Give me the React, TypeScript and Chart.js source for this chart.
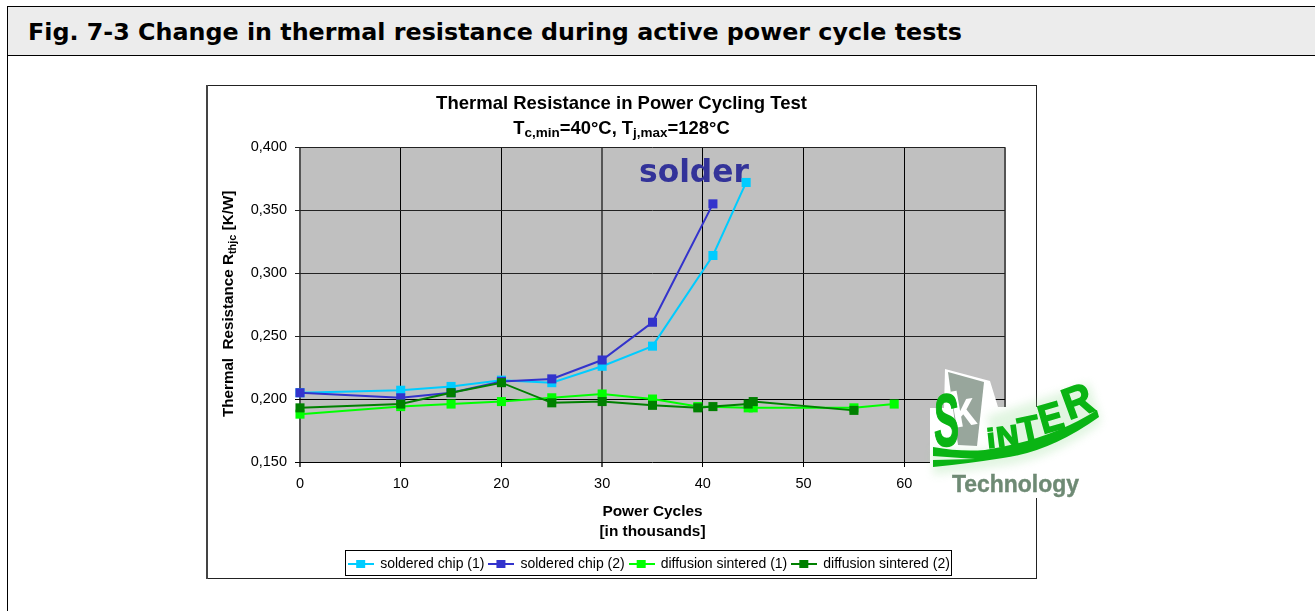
import React, { useEffect, useRef } from "react";
import { Chart, registerables } from "chart.js";

Chart.register(...registerables);

const HEADER = "Fig. 7-3 Change in thermal resistance during active power cycle tests";
const TITLE = "Thermal Resistance in Power Cycling Test";
const X_TITLE = ["Power Cycles", "[in thousands]"];

const solderedAX = [0, 10, 15, 20, 25, 30, 35, 41, 44.3];
const solderedAY = [0.205, 0.207, 0.21, 0.215, 0.213, 0.226, 0.242, 0.314, 0.372];
const solderedBX = [0, 10, 15, 20, 25, 30, 35, 41];
const solderedBY = [0.205, 0.201, 0.205, 0.214, 0.216, 0.231, 0.261, 0.355];
const sinteredAX = [0, 10, 15, 20, 25, 30, 35, 39.5, 44.5, 45, 55, 59];
const sinteredAY = [0.188, 0.194, 0.196, 0.198, 0.201, 0.204, 0.2, 0.194, 0.193, 0.193, 0.193, 0.196];
const sinteredBX = [0, 10, 15, 20, 25, 30, 35, 39.5, 41, 44.5, 45, 55];
const sinteredBY = [0.193, 0.196, 0.205, 0.213, 0.197, 0.198, 0.195, 0.193, 0.194, 0.196, 0.198, 0.191];

const SERIES_NAMES = ["soldered chip (1)", "soldered chip (2)", "diffusion sintered (1)", "diffusion sintered (2)"];
const SERIES_COLORS = ["#00CCFF", "#3333CC", "#00FF00", "#008000"];
const SERIES_X = [solderedAX, solderedBX, sinteredAX, sinteredBX];
const SERIES_Y = [solderedAY, solderedBY, sinteredAY, sinteredBY];

const ARIAL = '"Liberation Sans", Arial, sans-serif';
const DEJAVU = '"DejaVu Sans", Verdana, sans-serif';

function legendIcon(color: string) {
  const c = document.createElement("canvas");
  c.width = 26;
  c.height = 10;
  const g = c.getContext("2d")!;
  g.fillStyle = color;
  g.fillRect(0, 4, 26, 2);
  g.fillRect(8, 1, 9, 8);
  return c;
}

function drawRuns(g: any, x: number, y: number, runs: [string, boolean][], big: number, small: number, align: "center" | "left") {
  const fontOf = (sub: boolean) => `bold ${sub ? small : big}px ${ARIAL}`;
  let width = 0;
  runs.forEach(([t, sub]) => { g.font = fontOf(sub); width += g.measureText(t).width; });
  let px = align === "center" ? x - width / 2 : x;
  g.textAlign = "left";
  g.textBaseline = "alphabetic";
  g.fillStyle = "#000";
  runs.forEach(([t, sub]) => {
    g.font = fontOf(sub);
    g.fillText(t, px, y + (sub ? 3 : 0));
    px += g.measureText(t).width;
  });
}

const decorations = {
  id: "decorations",
  afterLayout(chart: any) {
    chart.titleBlock.left = 0;
    chart.titleBlock.right = chart.width;
    chart.scales.y.left = 0;
    chart.legend.top += 5;
    chart.legend.bottom += 5;
  },
  beforeDraw(chart: any) {
    const g = chart.ctx;
    const a = chart.chartArea;
    g.save();
    g.fillStyle = "#fff";
    g.fillRect(0, 0, chart.width, chart.height);
    g.fillStyle = "#C0C0C0";
    g.fillRect(a.left, a.top, a.right - a.left, a.bottom - a.top);
    g.restore();
  },
  beforeDatasetsDraw(chart: any) {
    const g = chart.ctx;
    const a = chart.chartArea;
    g.save();
    g.font = `bold 31.3px ${DEJAVU}`;
    g.fillStyle = "#333399";
    g.textAlign = "left";
    g.textBaseline = "alphabetic";
    g.fillText("solder", a.left + 339, a.top + 35);
    g.restore();
  },
  afterDraw(chart: any) {
    const g = chart.ctx;
    g.save();
    g.strokeStyle = "#222";
    g.lineWidth = 1;
    g.strokeRect(0.5, 0.5, chart.width - 1, chart.height - 1);
    g.fillStyle = "#444";
    g.fillRect(0, 0, 2, chart.height);
    drawRuns(g, chart.width / 2, 49,
      [["T", false], ["c,min", true], ["=40°C, T", false], ["j,max", true], ["=128°C", false]], 18.4, 13.5, "center");
    g.save();
    g.translate(27, 332);
    g.rotate(-Math.PI / 2);
    drawRuns(g, 0, 0, [["Thermal  Resistance R", false], ["thjc", true], [" [K/W]", false]], 15.2, 11, "left");
    g.restore();
    const boxes = chart.legend.legendHitBoxes;
    if (boxes && boxes.length) {
      const left = Math.min(...boxes.map((b: any) => b.left)) - 4;
      const right = Math.max(...boxes.map((b: any) => b.left + b.width)) + 1;
      g.strokeStyle = "#000";
      g.strokeRect(Math.round(left) + 0.5, 465.5, Math.round(right - left), 25);
    }
    g.restore();
  },
};

function gridEmphasis(index: number, list: number[]) {
  return list.includes(index);
}

export default function App() {
  const ref = useRef<HTMLCanvasElement>(null);
  useEffect(() => {
    const chart = new Chart(ref.current!, {
      type: "scatter",
      data: {
        datasets: SERIES_NAMES.map((label, i) => ({
          label,
          data: SERIES_X[i].map((x, j) => ({ x, y: SERIES_Y[i][j] })),
          showLine: true,
          borderColor: SERIES_COLORS[i],
          backgroundColor: SERIES_COLORS[i],
          borderWidth: 2,
          pointStyle: "rect",
          pointRadius: 6.4,
          pointBorderWidth: 0,
          tension: 0,
          order: SERIES_NAMES.length - i,
          clip: false,
        })),
      },
      plugins: [decorations],
      options: {
        responsive: false,
        animation: false,
        layout: { padding: { left: 88, right: 32, top: 0, bottom: 3 } },
        plugins: {
          tooltip: { enabled: false },
          title: {
            display: true,
            text: TITLE,
            color: "#000",
            font: { family: ARIAL, size: 18.5, weight: "bold" },
            padding: { top: 8, bottom: 32 },
          },
          legend: {
            position: "bottom",
            labels: {
              font: { family: ARIAL, size: 14 },
              color: "#000",
              usePointStyle: true,
              pointStyleWidth: 24,
              padding: 5,
              generateLabels: (c: any) =>
                c.data.datasets.map((d: any, i: number) => ({
                  text: d.label,
                  datasetIndex: i,
                  fontColor: "#000",
                  fillStyle: d.backgroundColor,
                  strokeStyle: d.borderColor,
                  lineWidth: 0,
                  pointStyle: legendIcon(SERIES_COLORS[i]),
                })),
            },
          },
        },
        scales: {
          x: {
            type: "linear",
            min: 0,
            max: 70,
            ticks: { stepSize: 10, color: "#000", padding: 8, font: { family: ARIAL, size: 14.5 }, maxRotation: 0 },
            grid: {
              tickLength: 5,
              color: (c: any) => (gridEmphasis(c.index, [0, 3, 7]) ? "#555" : "#000"),
              lineWidth: (c: any) => (gridEmphasis(c.index, [0, 3, 7]) ? 2 : 1),
            },
            border: { display: false },
            title: {
              display: true,
              text: X_TITLE,
              color: "#000",
              font: { family: ARIAL, size: 15.4, weight: "bold", lineHeight: 1.3 },
              padding: { top: 0, bottom: 5 },
            },
            afterFit: (s: any) => { s.height = 85; },
          },
          y: {
            type: "linear",
            min: 0.15,
            max: 0.4,
            ticks: {
              stepSize: 0.05,
              color: "#000",
              padding: 8,
              font: { family: ARIAL, size: 14.5 },
              callback: (v: any) => Number(v).toFixed(3).replace(".", ","),
            },
            grid: {
              tickLength: 5,
              color: (c: any) => (c.index >= 2 ? "#222" : "#000"),
              lineWidth: 1,
            },
            border: { display: false },
            afterFit: (s: any) => { s.width = 6; },
          },
        },
      },
    } as any);
    return () => chart.destroy();
  }, []);

  const logoLetter = { fontFamily: ARIAL, fontWeight: "bold", fill: "#0AB414", stroke: "#0AB414", strokeWidth: 1.6, lengthAdjust: "spacingAndGlyphs" } as any;

  return (
    <div style={{ position: "absolute", left: 0, top: 0, width: 1315, height: 611, overflow: "hidden", background: "#fff" }}>
      <div style={{ position: "absolute", left: 7, top: 6, width: 1320, height: 48, background: "#ECECEC", borderTop: "1px solid #000", borderBottom: "1px solid #000", borderLeft: "1px solid #000" }} />
      <div style={{ position: "absolute", left: 7, top: 55, width: 1, height: 556, background: "#000" }} />
      <div style={{ position: "absolute", left: 28, top: 17, whiteSpace: "nowrap", font: `bold 23.8px/30px ${DEJAVU}`, color: "#000" }}>{HEADER}</div>
      <canvas ref={ref} width={831} height={494} style={{ position: "absolute", left: 206, top: 85, display: "block" }} />
      <svg width={1315} height={611} style={{ position: "absolute", left: 0, top: 0, pointerEvents: "none" }}>
        <defs>
          <filter id="glow" x="-20%" y="-20%" width="140%" height="140%">
            <feGaussianBlur stdDeviation="4" />
          </filter>
        </defs>
        <path d="M930 408 L944 408 L945 369 L990 381 L998 407 L1100 407 L1100 498 L930 498 Z" fill="#fff" />
        <g filter="url(#glow)" fill="#9fe09f" opacity="0.3">
          <path d="M933 447 Q960 452 985 450 Q1050 440 1097 410 L1099 425 Q1050 460 1003 466 Q965 472 933 475 Z" />
          <rect x="990" y="400" width="108" height="40" transform="rotate(-18 1040 420)" />
        </g>
        <path d="M948 372 L984 382 L977 446 L958 445 Z" fill="#98a69c" />
        <text x="954" y="428" fontFamily={ARIAL} fontWeight="bold" fontSize="50" fill="#fff" textLength={24} lengthAdjust="spacingAndGlyphs" transform="rotate(-10 954 428)">k</text>
        <text {...logoLetter} x="934" y="446" fontSize="74" textLength={25}>S</text>
        <text {...logoLetter} x="988" y="448" fontSize="27" textLength={8} transform="rotate(-6 988 448)">i</text>
        <text {...logoLetter} x="998" y="447" fontSize="28" textLength={22} transform="rotate(-8 998 447)">N</text>
        <text {...logoLetter} x="1021" y="442" fontSize="34" textLength={21} transform="rotate(-12 1021 442)">T</text>
        <text {...logoLetter} x="1043" y="434" fontSize="40" textLength={24} transform="rotate(-16 1043 434)">E</text>
        <text {...logoLetter} x="1069" y="420" fontSize="44" textLength={29} transform="rotate(-20 1069 420)">R</text>
        <path d="M933 447 Q960 452 985 450 Q1050 440 1097 410 L1099 417 Q1050 452 1003 458 Q965 464 933 467 Z" fill="#0AB414" />
        <path d="M933 456 L975 459 L933 460 Z" fill="#e6f7e6" />
        <text x="952" y="492" fontFamily={ARIAL} fontWeight="bold" fontSize="24" fill="#6E8A74" stroke="#6E8A74" strokeWidth="0.4" textLength={127} lengthAdjust="spacingAndGlyphs">Technology</text>
      </svg>
    </div>
  );
}
